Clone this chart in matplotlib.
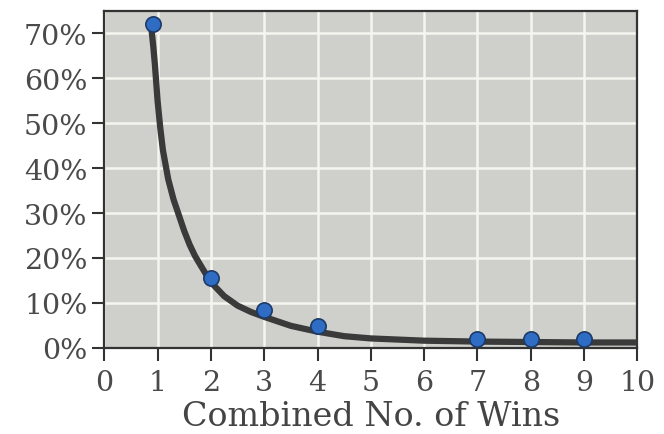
import matplotlib.pyplot as plt
from matplotlib.ticker import PercentFormatter

# observed points (combined wins vs share, %)
wins = [0.92, 2, 3, 4, 7, 8, 9]
share = [72.0, 15.5, 8.4, 4.9, 2.0, 2.0, 2.0]

# trend line
curve_x = [0.88, 0.92, 0.95, 1.0, 1.05, 1.1, 1.2, 1.3, 1.4, 1.5, 1.6, 1.7, 1.8, 2.0,
           2.25, 2.5, 2.75, 3.0, 3.5, 4.0, 4.5, 5.0, 6.0, 7.0, 8.0, 9.0, 10.0]
curve_y = [71.5, 67.0, 63.0, 55.0, 49.0, 44.0, 37.5, 33.0, 29.5, 26.0, 23.0, 20.5, 18.5, 14.6,
           11.5, 9.4, 8.0, 6.9, 4.9, 3.6, 2.6, 2.1, 1.6, 1.4, 1.3, 1.2, 1.2]

x_ticks = list(range(0, 11))
y_ticks = [0, 10, 20, 30, 40, 50, 60, 70]

plt.rcParams['font.family'] = ['DejaVu Serif']

fig = plt.figure(figsize=(6.64, 4.35), dpi=100)
ax = fig.add_axes([0.157, 0.198, 0.803, 0.775])
ax.set_facecolor('#cfcfcb')

ax.plot(curve_x, curve_y, color='#3a3a3a', lw=4.5, solid_capstyle='butt', zorder=3)
ax.plot(wins, share, 'o', ms=11, color='#2f6cc4', mec='#1d3a66', mew=1.2, zorder=4,
        clip_on=False)

ax.set_xlim(0, 10)
ax.set_ylim(0, 75)
ax.set_xticks(x_ticks)
ax.set_yticks(y_ticks)
ax.yaxis.set_major_formatter(PercentFormatter(decimals=0))
ax.grid(True, color='#f6f6f0', lw=1.8)
ax.set_axisbelow(True)

for s in ax.spines.values():
    s.set_color('#333333')
    s.set_linewidth(1.6)

ax.tick_params(axis='both', colors='#333333', labelcolor='#4a4a4a', length=9,
               width=1.5, labelsize=20.5, direction='out')
ax.tick_params(axis='x', pad=6)
ax.tick_params(axis='y', pad=3)

ax.set_xlabel('Combined No. of Wins', fontsize=24, color='#444444', labelpad=3)

fig.savefig('out.png', dpi=100, facecolor='white')
